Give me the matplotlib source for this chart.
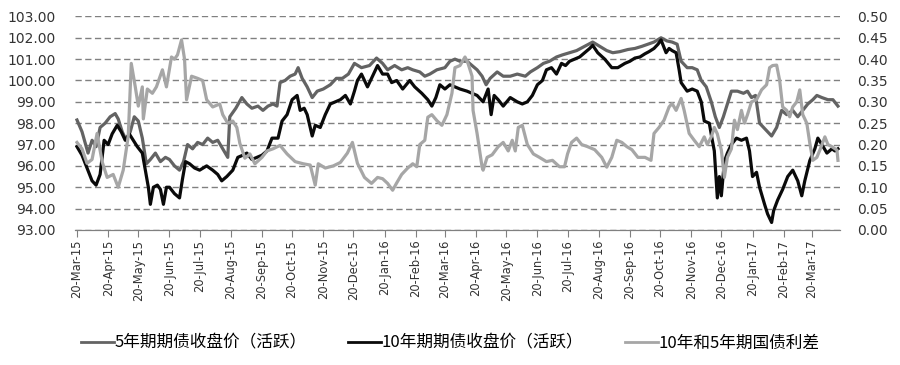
import numpy as np
import pandas as pd
import matplotlib as mpl
mpl.use('Agg')
import matplotlib.pyplot as plt
import matplotlib.dates as mdates

plt.rcParams['font.family'] = ['DejaVu Sans', 'Noto Sans CJK SC']

start = pd.Timestamp('2015-03-20')

# 5-year bond futures close (active contract), days after 20-Mar-15
days_5y = [0, 5, 11, 15, 19, 23, 28, 33, 38, 41, 45, 49, 53, 57, 61, 65, 69, 73, 78, 83,
           88, 92, 97, 102, 106, 110, 115, 120, 125, 130, 135, 140, 145, 150, 152, 158, 164, 169, 174, 180,
           185, 190, 195, 199, 202, 207, 212, 217, 220, 224, 229, 234, 239, 245, 252, 258, 264, 270, 276, 283,
           291, 298, 304, 309, 316, 323, 329, 334, 341, 346, 351, 358, 366, 371, 376, 381, 388, 393, 398, 403,
           407, 411, 418, 424, 431, 438, 446, 451, 458, 464, 470, 477, 483, 490, 497, 505, 513, 520, 527, 533,
           540, 548, 555, 562, 568, 574, 581, 587, 592, 597, 601, 607, 612, 617, 621, 626, 631, 635, 639, 643,
           647, 651, 657, 663, 667, 671, 675, 679, 685, 691, 696, 701, 706, 712, 717, 722, 727, 732, 736, 741,
           747, 752, 757]
price_5y = [98.15, 97.6, 96.6, 97.2, 96.9, 97.8, 98.0, 98.3, 98.45, 98.2, 97.6, 97.2, 97.6, 98.3, 98.1, 97.3, 96.1, 96.3, 96.6, 96.2,
            96.4, 96.3, 96.0, 95.8, 96.2, 97.0, 96.8, 97.1, 97.0, 97.3, 97.1, 97.2, 96.8, 96.4, 98.3, 98.7, 99.2, 98.9, 98.7, 98.8,
            98.6, 98.8, 98.9, 98.8, 99.9, 100.0, 100.2, 100.3, 100.6, 100.1, 99.7, 99.2, 99.5, 99.6, 99.8, 100.1, 100.1, 100.3, 100.8, 100.6,
            100.7, 101.05, 100.8, 100.5, 100.7, 100.5, 100.6, 100.5, 100.4, 100.2, 100.3, 100.5, 100.6, 100.9, 101.0, 100.9, 100.9, 100.7, 100.5, 100.2,
            99.8, 100.1, 100.4, 100.2, 100.2, 100.3, 100.2, 100.4, 100.6, 100.8, 100.9, 101.1, 101.2, 101.3, 101.4, 101.6, 101.8, 101.6, 101.4, 101.3,
            101.35, 101.45, 101.5, 101.6, 101.7, 101.8, 102.0, 101.85, 101.8, 101.7, 100.9, 100.6, 100.6, 100.5, 100.0, 99.7, 99.0, 98.3, 97.8, 98.3,
            98.9, 99.5, 99.5, 99.4, 99.5, 99.2, 99.3, 98.0, 97.7, 97.4, 97.8, 98.6, 98.4, 98.6, 98.3, 98.6, 98.9, 99.1, 99.3, 99.2,
            99.1, 99.1, 98.8]

# 10-year bond futures close (active contract)
days_10y = [0, 5, 10, 15, 19, 23, 27, 31, 35, 40, 44, 48, 52, 56, 60, 65, 68, 71, 73, 76,
            80, 83, 86, 89, 92, 97, 102, 105, 108, 112, 117, 122, 129, 135, 140, 144, 149, 155, 160, 165,
            169, 174, 179, 184, 189, 194, 200, 204, 209, 214, 219, 222, 226, 229, 234, 237, 242, 247, 252, 257,
            262, 267, 272, 276, 279, 283, 289, 293, 296, 299, 304, 309, 313, 318, 324, 331, 336, 343, 349, 353,
            357, 361, 366, 371, 376, 381, 388, 393, 398, 404, 409, 412, 415, 419, 424, 431, 438, 443, 448, 453,
            458, 463, 467, 472, 477, 482, 486, 490, 495, 500, 505, 510, 513, 518, 525, 532, 538, 545, 550, 555,
            560, 565, 569, 574, 578, 581, 586, 589, 592, 596, 599, 601, 607, 612, 617, 621, 624, 629, 632, 634,
            637, 639, 641, 644, 647, 651, 656, 661, 666, 669, 672, 676, 679, 684, 687, 691, 693, 697, 702, 707,
            712, 717, 721, 724, 729, 734, 737, 741, 746, 751, 754, 757]
price_10y = [96.9, 96.5, 95.9, 95.3, 95.1, 95.6, 97.2, 97.0, 97.5, 97.9, 97.6, 97.2, 97.5, 97.2, 96.9, 96.6, 95.8, 95.0, 94.2, 95.0,
             95.1, 94.9, 94.2, 95.0, 95.0, 94.7, 94.5, 95.4, 96.2, 96.1, 95.9, 95.8, 96.0, 95.8, 95.6, 95.3, 95.5, 95.8, 96.4, 96.5,
             96.6, 96.3, 96.4, 96.5, 96.7, 97.3, 97.3, 98.1, 98.4, 99.1, 99.3, 98.6, 98.7, 98.4, 97.4, 97.9, 97.8, 98.4, 98.9, 99.0,
             99.1, 99.3, 98.9, 99.5, 100.0, 100.3, 99.7, 100.1, 100.4, 100.7, 100.3, 100.3, 99.9, 100.0, 99.6, 100.0, 99.7, 99.4, 99.1, 98.8,
             99.2, 99.8, 99.6, 99.8, 99.7, 99.6, 99.5, 99.4, 99.3, 99.0, 99.6, 98.4, 99.3, 99.1, 98.8, 99.2, 99.0, 98.9, 99.0, 99.3,
             99.8, 100.0, 100.5, 100.6, 100.3, 100.8, 100.7, 100.9, 101.0, 101.1, 101.3, 101.5, 101.65, 101.3, 101.0, 100.6, 100.6, 100.8, 100.9, 101.05,
             101.1, 101.25, 101.35, 101.5, 101.7, 101.9, 101.3, 101.5, 101.4, 101.3, 100.5, 99.9, 99.5, 99.6, 99.5, 99.0, 98.1, 98.0, 97.2, 96.7,
             94.5, 95.5, 94.6, 96.2, 96.6, 97.0, 97.3, 97.2, 97.3, 96.7, 95.5, 95.7, 95.0, 94.2, 93.75, 93.35, 93.9, 94.4, 94.9, 95.5,
             95.8, 95.3, 94.6, 95.3, 96.25, 96.8, 97.3, 97.0, 96.6, 96.8, 96.7, 96.8]

# 10y minus 5y treasury yield spread (right axis)
days_spread = [0, 5, 10, 15, 20, 25, 30, 36, 41, 46, 51, 54, 58, 61, 65, 66, 70, 75, 79, 85,
               89, 94, 97, 100, 104, 107, 109, 114, 120, 125, 129, 135, 142, 145, 150, 155, 159, 162, 167, 172,
               177, 184, 189, 195, 202, 209, 217, 225, 232, 237, 240, 247, 255, 262, 269, 274, 279, 286, 293, 299,
               304, 309, 314, 318, 323, 329, 334, 338, 341, 346, 349, 353, 358, 363, 368, 373, 376, 381, 386, 389,
               393, 394, 398, 403, 404, 408, 413, 419, 424, 429, 433, 436, 439, 443, 448, 454, 460, 467, 473, 480,
               485, 488, 492, 497, 502, 508, 515, 522, 527, 532, 537, 542, 547, 552, 558, 565, 571, 574, 579, 584,
               589, 592, 596, 601, 604, 609, 614, 619, 624, 627, 631, 634, 637, 641, 644, 647, 651, 654, 657, 661,
               664, 667, 671, 676, 681, 686, 689, 692, 696, 699, 702, 706, 709, 712, 716, 719, 722, 726, 729, 732,
               736, 739, 744, 747, 751, 756, 757]
spread = [0.205, 0.19, 0.156, 0.165, 0.226, 0.16, 0.123, 0.13, 0.10, 0.14, 0.22, 0.39, 0.335, 0.29, 0.335, 0.26, 0.33, 0.32, 0.335, 0.375,
          0.335, 0.405, 0.40, 0.41, 0.445, 0.40, 0.305, 0.36, 0.355, 0.35, 0.305, 0.288, 0.295, 0.27, 0.25, 0.255, 0.24, 0.203, 0.168, 0.178,
          0.155, 0.17, 0.185, 0.19, 0.198, 0.178, 0.16, 0.155, 0.152, 0.105, 0.155, 0.145, 0.15, 0.158, 0.18, 0.205, 0.156, 0.123, 0.109, 0.123,
          0.12, 0.109, 0.093, 0.11, 0.13, 0.145, 0.155, 0.148, 0.20, 0.21, 0.264, 0.27, 0.256, 0.245, 0.27, 0.32, 0.38, 0.385, 0.405, 0.39,
          0.36, 0.28, 0.226, 0.147, 0.14, 0.17, 0.176, 0.195, 0.205, 0.185, 0.21, 0.185, 0.24, 0.245, 0.20, 0.178, 0.17, 0.16, 0.163, 0.148,
          0.148, 0.178, 0.205, 0.215, 0.20, 0.195, 0.188, 0.17, 0.147, 0.17, 0.21, 0.205, 0.195, 0.188, 0.17, 0.17, 0.163, 0.226, 0.24, 0.257,
          0.288, 0.296, 0.28, 0.308, 0.28, 0.226, 0.21, 0.195, 0.218, 0.20, 0.218, 0.24, 0.225, 0.187, 0.123, 0.17, 0.19, 0.257, 0.235, 0.28,
          0.25, 0.27, 0.30, 0.305, 0.328, 0.34, 0.38, 0.385, 0.386, 0.35, 0.288, 0.28, 0.265, 0.288, 0.30, 0.328, 0.27, 0.25, 0.203, 0.163,
          0.17, 0.187, 0.218, 0.20, 0.195, 0.187, 0.163]

labels = ['5年期期债收盘价（活跃）', '10年期期债收盘价（活跃）', '10年和5年期国债利差']

# monthly ticks on the 20th, 20-Mar-15 .. 20-Mar-17
tick_dates = pd.date_range('2015-03-01', '2017-03-01', freq='MS') + pd.Timedelta(days=19)

d5 = start + pd.to_timedelta(days_5y, unit='D')
d10 = start + pd.to_timedelta(days_10y, unit='D')
ds = start + pd.to_timedelta(days_spread, unit='D')

fig = plt.figure(figsize=(9, 3.65), dpi=100)
ax = fig.add_axes([0.0833, 0.370, 0.85, 0.585])
ax2 = ax.twinx()

l1, = ax.plot(d5, price_5y, color='#636363', lw=2.3)
l2, = ax.plot(d10, price_10y, color='#0a0a0a', lw=2.3)
l3, = ax2.plot(ds, spread, color='#a6a6a6', lw=2.3)

ax.set_ylim(93, 103)
ax.set_yticks(np.arange(93, 103.5, 1))
ax.yaxis.set_major_formatter(mpl.ticker.FormatStrFormatter('%.2f'))
ax2.set_ylim(0, 0.5)
ax2.set_yticks(np.arange(0, 0.501, 0.05))
ax2.yaxis.set_major_formatter(mpl.ticker.FormatStrFormatter('%.2f'))

ax.set_xlim(pd.Timestamp('2015-03-18'), pd.Timestamp('2017-04-17'))
ax.set_xticks(tick_dates)
ax.xaxis.set_major_formatter(mdates.DateFormatter('%d-%b-%y'))
for t in ax.get_xticklabels():
    t.set_rotation(90)

ax.grid(axis='y', color='#808080', linestyle=(0, (4.5, 2.5)), lw=1)
ax.set_axisbelow(True)

for a in (ax, ax2):
    for s in ['top', 'left', 'right']:
        a.spines[s].set_visible(False)
    a.spines['bottom'].set_color('#808080')

ax.tick_params(axis='y', length=0, labelsize=10, labelcolor='#333333', pad=14)
ax2.tick_params(axis='y', length=0, labelsize=10, labelcolor='#333333', pad=12)
ax.tick_params(axis='x', direction='out', length=5, color='#808080', labelsize=8.3, labelcolor='#333333', pad=2)

leg = fig.legend([l1, l2, l3], labels, loc='center', bbox_to_anchor=(0.5, 0.06), ncol=3,
                 frameon=False, handlelength=2.0, handletextpad=0.0, columnspacing=2.5,
                 prop={'family': ['Noto Sans CJK SC', 'DejaVu Sans'], 'size': 12})
for h in leg.get_lines():
    h.set_linewidth(2)

fig.savefig('out.png', dpi=100)
